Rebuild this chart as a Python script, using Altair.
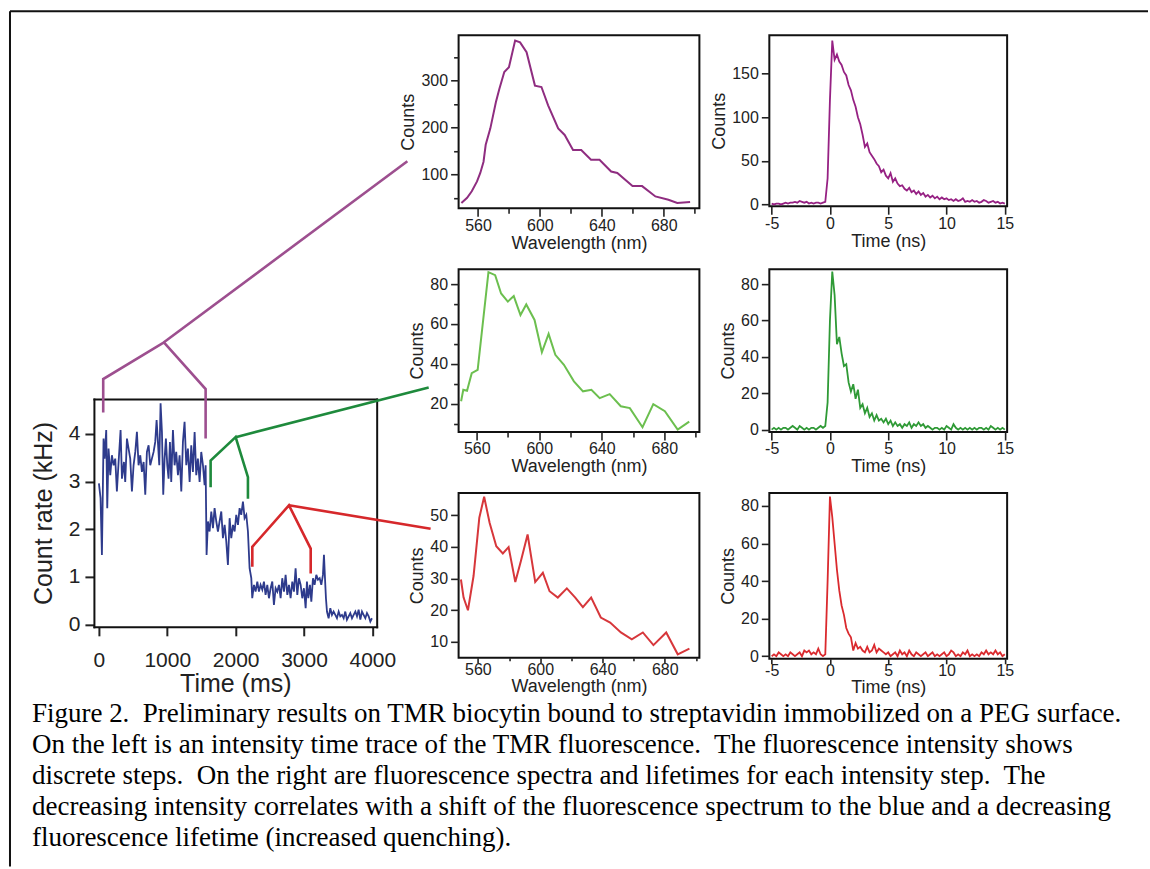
import altair as alt
import pandas as pd

# ---------------- data ----------------
# intensity time trace (ms, kHz)
TRACE_T = [0, 24, 44, 68, 83, 107, 122, 141, 166, 190,
           215, 239, 263, 288, 317, 337, 366, 385, 410, 434,
           458, 483, 507, 532, 556, 580, 605, 629, 654, 678,
           702, 727, 751, 775, 800, 824, 844, 863, 883, 902,
           922, 941, 961, 980, 1000, 1019, 1039, 1058, 1083, 1107,
           1131, 1156, 1180, 1205, 1229, 1253, 1278, 1302, 1327, 1351,
           1375, 1400, 1424, 1448, 1473, 1497, 1522, 1546, 1561, 1575,
           1595, 1619, 1644, 1668, 1692, 1717, 1741, 1765, 1790, 1814,
           1839, 1863, 1887, 1912, 1936, 1961, 1985, 2009, 2034, 2058,
           2082, 2107, 2131, 2156, 2180, 2204, 2229, 2243, 2268, 2292,
           2317, 2341, 2365, 2390, 2414, 2438, 2463, 2487, 2512, 2536,
           2560, 2585, 2609, 2634, 2658, 2682, 2707, 2731, 2756, 2780,
           2804, 2829, 2853, 2877, 2902, 2926, 2951, 2975, 2999, 3024,
           3043, 3063, 3087, 3107, 3131, 3155, 3180, 3204, 3229, 3253,
           3277, 3292, 3307, 3321, 3336, 3360, 3385, 3409, 3433, 3458,
           3482, 3507, 3531, 3555, 3580, 3604, 3628, 3653, 3677, 3702,
           3726, 3751, 3775, 3799, 3824, 3848, 3872, 3897, 3921, 3946,
           3970, 3994]
TRACE_V = [2.96, 2.65, 1.46, 3.90, 3.48, 4.08, 2.44, 3.69, 3.13, 3.55,
           3.34, 3.48, 2.79, 3.41, 4.08, 3.06, 3.41, 2.99, 3.90, 3.69,
           3.48, 2.79, 3.34, 3.62, 4.04, 3.34, 3.55, 3.20, 3.41, 2.72,
           3.62, 3.76, 3.34, 3.48, 3.62, 3.83, 4.29, 3.83, 3.34, 4.64,
           4.04, 2.72, 3.48, 3.90, 3.34, 3.06, 3.83, 2.99, 4.08, 3.34,
           3.62, 3.13, 3.55, 2.79, 3.83, 4.25, 3.34, 3.69, 2.99, 3.76,
           3.20, 4.04, 3.13, 3.48, 2.99, 3.62, 3.34, 2.92, 3.34, 1.46,
           2.16, 1.95, 2.37, 2.02, 2.44, 2.16, 1.95, 2.16, 2.37, 1.81,
           2.09, 1.74, 1.25, 2.23, 1.81, 2.09, 1.95, 2.30, 2.09, 2.44,
           2.30, 2.58, 2.23, 2.30, 1.95, 1.18, 0.97, 0.55, 0.83, 0.69,
           0.90, 0.69, 0.83, 0.73, 0.90, 0.62, 0.83, 0.55, 0.76, 0.90,
           0.41, 0.76, 0.69, 0.83, 0.55, 0.97, 0.69, 1.04, 0.62, 0.83,
           0.55, 0.90, 0.69, 1.18, 0.62, 0.97, 0.83, 0.55, 0.76, 0.34,
           0.90, 0.55, 0.83, 0.48, 0.97, 0.83, 1.04, 0.94, 0.97, 0.83,
           1.04, 1.46, 0.97, 0.55, 0.27, 0.13, 0.34, 0.20, 0.27, 0.20,
           0.13, 0.27, 0.17, 0.20, 0.13, 0.27, 0.10, 0.17, 0.24, 0.13,
           0.20, 0.27, 0.17, 0.31, 0.10, 0.27, 0.20, 0.13, 0.24, 0.17,
           0.06, 0.13]

# brackets (in trace coordinates) and their leader lines
BRACKET_P_T = [63, 63, 951, 1561, 1561]
BRACKET_P_V = [4.45, 5.15, 5.92, 4.94, 3.90]
LEAD_P_T = [951, 4512]
LEAD_P_V = [5.92, 9.72]
BRACKET_G_T = [1634, 1634, 2000, 2180, 2180]
BRACKET_G_V = [2.88, 3.44, 3.93, 3.09, 2.64]
LEAD_G_T = [2000, 4824]
LEAD_G_V = [3.93, 4.97]
BRACKET_R_T = [2244, 2244, 2780, 3098, 3098]
BRACKET_R_V = [1.21, 1.63, 2.50, 1.59, 1.07]
LEAD_R_T = [2780, 4852]
LEAD_R_V = [2.50, 2.01]

# spectra (nm, counts)
SPEC_P_NM = [549.3, 553, 556, 559.4, 561.5, 563.6, 565, 568, 571.6, 573.8, 577, 580, 584, 587.2,
             591.4, 596.8, 601, 605.3, 611.8, 616, 621.4, 626.7, 633, 638.5, 646, 650, 659.8,
             666, 674.6, 683, 688.7, 697]
SPEC_P_C = [39, 50, 64, 85, 103, 127, 163, 198, 254, 282, 318, 328, 385, 381,
            360, 289, 286, 247, 198, 184, 152, 152, 131, 131, 106, 103, 75,
            75, 53, 46, 39, 41]
SPEC_G_NM = [550, 551.4, 553.8, 556.8, 560.6, 567.5, 571.8, 575.6, 579.9, 583.7, 588, 591.7,
             597, 601.7, 606, 610.3, 615.8, 622.2, 628, 633.4, 638.7, 645.1, 652.2, 658,
             666.1, 673, 680.4, 688.6, 696]
SPEC_G_C = [21.2, 27, 26.5, 35.3, 37, 86, 84.5, 75.3, 71.2, 74, 64.5, 69.8,
            62, 45.8, 55, 44.5, 39.5, 31.2, 26.2, 27, 22.8, 24.8, 18.7, 17.8,
            8.2, 19.8, 16.2, 7, 11]
SPEC_R_NM = [549.1, 550.8, 553.6, 557.2, 560.9, 564, 567.5, 571.8, 576, 579.7, 584, 587.6,
             591.9, 596.8, 601.7, 606, 611.3, 617.1, 622.5, 627.4, 632.7, 638.9, 644.9,
             651.8, 658.8, 665.9, 672.7, 680.9, 688.3, 695.8]
SPEC_R_C = [29.7, 24, 20, 30.8, 49.2, 55.8, 47.6, 40.2, 37.9, 39.9, 28.9, 35.5,
            43.9, 28.9, 31.8, 26, 24, 26.9, 24, 21, 24, 17.7, 16.1,
            13, 10.8, 13, 9, 13, 6.1, 7.9]

# lifetimes: counts on a 0.2 ns grid from -5 ns to 15 ns
LIFE_T = [round(-5 + 0.2 * i, 1) for i in range(101)]
LIFE_P = [1, 0, 1, 1, 0, 1, 2, 1, 2, 2,
          3, 2, 4, 3, 2, 3, 1, 2, 1, 2,
          2, 1, 2, 3, 30, 120, 188, 166, 172, 164,
          160, 152, 148, 137, 131, 120, 112, 100, 92, 80,
          66, 70, 60, 56, 52, 47, 44, 37, 40, 33,
          30, 36, 26, 30, 24, 21, 22, 18, 16, 19,
          14, 16, 12, 15, 11, 13, 9, 11, 8, 10,
          7, 9, 6, 8, 6, 7, 5, 6, 4, 6,
          4, 5, 7, 3, 4, 3, 5, 3, 4, 2,
          3, 5, 4, 2, 3, 4, 2, 3, 1, 2,
          1]
LIFE_G = [0, 1, 0, 1, 0, 1, 1, 0, 1, 2,
          1, 0, 2, 1, 0, 1, 0, 1, 1, 0,
          1, 2, 1, 2, 15, 60, 87, 74, 47, 51,
          42, 35, 36, 26, 21, 25, 17, 22, 12, 14,
          9, 12, 7, 9, 5, 8, 5, 6, 4, 6,
          3, 5, 2, 4, 2, 3, 1, 3, 2, 4,
          1, 3, 2, 4, 2, 3, 1, 2, 1, 0,
          1, 1, 0, 1, 0, 2, 1, 0, 3, 1,
          0, 1, 0, 1, 0, 1, 0, 1, 0, 1,
          1, 0, 1, 0, 2, 1, 0, 1, 0, 1,
          0]
LIFE_R = [0, 1, 0, 2, 1, 0, 1, 0, 2, 1,
          0, 1, 2, 0, 3, 2, 3, 1, 2, 1,
          4, 1, 0, 1, 40, 85, 74, 60, 46, 35,
          27, 22, 15, 12, 10, 3, 7, 4, 5, 3,
          2, 5, 2, 3, 6, 2, 4, 3, 2, 1,
          2, 0, 1, 2, 0, 3, 1, 2, 0, 3,
          1, 0, 2, 1, 0, 1, 2, 0, 1, 2,
          0, 1, 0, 1, 2, 0, 1, 3, 2, 0,
          1, 0, 2, 1, 3, 0, 1, 0, 1, 0,
          2, 1, 3, 1, 2, 1, 3, 1, 2, 0,
          1]

CAPTION_LINES = [
    "Figure 2.\u00a0 Preliminary results on TMR biocytin bound to streptavidin immobilized on a PEG surface.",
    "On the left is an intensity time trace of the TMR fluorescence.\u00a0 The fluorescence intensity shows",
    "discrete steps.\u00a0 On the right are fluorescence spectra and lifetimes for each intensity step.\u00a0 The",
    "decreasing intensity correlates with a shift of the fluorescence spectrum to the blue and a decreasing",
    "fluorescence lifetime (increased quenching).",
]

# ---------------- styles ----------------
SANS = "Liberation Sans"
SERIF = "Liberation Serif"
INK = "#222222"
FRAME = "#111111"
TRACE_COLOR = "#2E3B8C"
BR_P, BR_G, BR_R = "#9D4F8F", "#1E8A3C", "#D6282B"
SP_P, SP_G, SP_R = "#8F2D80", "#6CBF4F", "#D7373B"
LT_P, LT_G, LT_R = "#962183", "#2F9A36", "#DA2A2E"

SMALL = dict(domain=False, grid=False, tickColor=INK, tickWidth=1.6,
             labelFont=SANS, labelFontSize=16, labelColor=INK, labelFlush=False,
             labelOverlap=False, titleFont=SANS, titleFontSize=18,
             titleFontWeight="normal", titleColor=INK)
SX = dict(SMALL, tickSize=8, labelPadding=1, titlePadding=1)
SX_LOW = dict(SMALL, tickSize=5, labelPadding=-1, titlePadding=0)
SY = dict(SMALL, tickSize=8, labelPadding=3, titlePadding=3)
MINOR = dict(domain=False, grid=False, tickColor=INK, tickWidth=1.6, tickSize=5, labels=False)
MINOR_LOW = dict(MINOR, tickSize=3)

BIG = dict(domain=True, domainColor=FRAME, domainWidth=2, domainCap="square", grid=False,
           tickColor=INK, tickWidth=2, tickSize=9,
           labelFont=SANS, labelFontSize=21, labelColor=INK, labelFlush=False,
           labelOverlap=False, titleFont=SANS, titleFontSize=25,
           titleFontWeight="normal", titleColor=INK)
BX = dict(BIG, labelPadding=14, titlePadding=1)
BY = dict(BIG, labelPadding=5, titlePadding=12)
EDGE = dict(domain=True, domainColor=FRAME, domainWidth=2, domainCap="square", grid=False,
            ticks=False, labels=False, title=None)

PANEL_VIEW = alt.ViewBackground(stroke=FRAME, strokeWidth=2)
EMPTY_VIEW = alt.ViewBackground(stroke="transparent")
ONE = pd.DataFrame({"z": [0]})


def blank(w, h):
    return alt.Chart(ONE).mark_point(opacity=0).encode(
        x=alt.value(0), y=alt.value(0)).properties(width=w, height=h, view=EMPTY_VIEW)


# ---------------- left: time trace with brackets ----------------
# the trace cell is 134 px tall; its y range reaches 94 px above the cell
tx = alt.Scale(domain=[-73, 4063], nice=False, zero=False)
ty = alt.Scale(domain=[-0.05, 4.73], range=[134, -94], nice=False, zero=False)
trace_df = pd.DataFrame({"t": TRACE_T, "v": TRACE_V})
trace_line = alt.Chart(trace_df).mark_line(color=TRACE_COLOR, strokeWidth=1.8).encode(
    x=alt.X("t:Q", scale=tx, axis=alt.Axis(orient="bottom", values=[0, 1000, 2000, 3000, 4000],
                                            format="d", title="Time (ms)", **BX)),
    y=alt.Y("v:Q", scale=ty, axis=alt.Axis(orient="left", values=[0, 1, 2, 3, 4],
                                            format="d", title="Count rate (kHz)", **BY)),
)
trace_frame = alt.Chart(trace_df).mark_line(opacity=0).encode(
    x=alt.X("t:Q", scale=tx, axis=alt.Axis(orient="top", offset=94, **EDGE)),
    y=alt.Y("v:Q", scale=ty, axis=alt.Axis(orient="right", **EDGE)),
)


def bracket(bt, bv, lt, lv, color):
    df = pd.DataFrame({
        "t": bt + lt, "v": bv + lv,
        "seg": [0] * len(bt) + [1] * len(lt),
        "k": list(range(len(bt))) + list(range(len(lt))),
    })
    return alt.Chart(df).mark_line(color=color, strokeWidth=2.6, clip=False).encode(
        x=alt.X("t:Q", scale=tx, axis=None),
        y=alt.Y("v:Q", scale=ty, axis=None),
        detail="seg:N", order="k:Q")


caption = alt.TitleParams(text=CAPTION_LINES, orient="bottom", anchor="start", frame="group",
                          dx=-62, dy=-35, offset=15, font=SERIF, fontSize=27, fontWeight="normal",
                          color="#000000", lineHeight=31, limit=1200, baseline="top")

trace = alt.layer(
    trace_line,
    trace_frame,
    bracket(BRACKET_P_T, BRACKET_P_V, LEAD_P_T, LEAD_P_V, BR_P),
    bracket(BRACKET_G_T, BRACKET_G_V, LEAD_G_T, LEAD_G_V, BR_G),
    bracket(BRACKET_R_T, BRACKET_R_V, LEAD_R_T, LEAD_R_V, BR_R),
).resolve_axis(x="independent", y="independent").properties(
    width=283, height=134, view=EMPTY_VIEW, title=caption)

# outer border of the figure box (decoration, drawn from the top-left spacer)
border = alt.layer(
    alt.Chart(ONE).mark_rule(color=FRAME, strokeWidth=2).encode(
        x=alt.value(-84), y=alt.value(-24), y2=alt.value(832)),
    alt.Chart(ONE).mark_rule(color=FRAME, strokeWidth=2).encode(
        x=alt.value(-84), x2=alt.value(1055), y=alt.value(-24)),
).properties(width=283, height=1, view=EMPTY_VIEW)


# ---------------- spectra ----------------
def spectrum(nm, counts, color, xdom, ydom, ymajor, yminor, w, h, sx=SX, mx=MINOR):
    df = pd.DataFrame({"nm": nm, "c": counts})
    xs = alt.Scale(domain=xdom, nice=False, zero=False)
    ys = alt.Scale(domain=ydom, nice=False, zero=False)
    main = alt.Chart(df).mark_line(color=color, strokeWidth=2).encode(
        x=alt.X("nm:Q", scale=xs, axis=alt.Axis(orient="bottom", values=[560, 600, 640, 680],
                                                 title="Wavelength (nm)", **sx)),
        y=alt.Y("c:Q", scale=ys, axis=alt.Axis(orient="left", values=ymajor, title="Counts", **SY)),
    )
    if yminor:
        yax = alt.Axis(orient="left", values=yminor, title=None, **MINOR)
    else:
        yax = None
    minor = alt.Chart(df).mark_line(opacity=0).encode(
        x=alt.X("nm:Q", scale=xs, axis=alt.Axis(orient="bottom", values=[580, 620, 660, 700],
                                                 title=None, **mx)),
        y=alt.Y("c:Q", scale=ys, axis=yax),
    )
    return alt.layer(main, minor).resolve_axis(x="independent", y="independent").properties(
        width=w, height=h, view=PANEL_VIEW)


# ---------------- lifetimes ----------------
def lifetime(vals, color, ydom, ymajor, w, h, sx=SX):
    df = pd.DataFrame({"t": LIFE_T, "c": vals})
    return alt.Chart(df).mark_line(color=color, strokeWidth=1.8).encode(
        x=alt.X("t:Q", scale=alt.Scale(domain=[-5.2, 15.2], nice=False, zero=False),
                axis=alt.Axis(orient="bottom", values=[-5, 0, 5, 10, 15],
                              labelExpr="'' + datum.value", title="Time (ns)", **sx)),
        y=alt.Y("c:Q", scale=alt.Scale(domain=ydom, nice=False, zero=False),
                axis=alt.Axis(orient="left", values=ymajor, title="Counts", **SY)),
    ).properties(width=w, height=h, view=PANEL_VIEW)


spec1 = spectrum(SPEC_P_NM, SPEC_P_C, SP_P, [547.5, 703], [28, 396], [100, 200, 300],
                 [50, 150, 250, 350], 241, 173)
spec2 = spectrum(SPEC_G_NM, SPEC_G_C, SP_G, [548.4, 702.5], [5.8, 87.5], [20, 40, 60, 80],
                 [10, 30, 50, 70], 241, 163)
spec3 = spectrum(SPEC_R_NM, SPEC_R_C, SP_R, [547.6, 702.2], [5, 57], [10, 20, 30, 40, 50],
                 [], 241, 165, sx=SX_LOW, mx=MINOR_LOW)
life1 = lifetime(LIFE_P, LT_P, [-2, 194], [0, 50, 100, 150], 238, 171)
life2 = lifetime(LIFE_G, LT_G, [-1.3, 88.3], [0, 20, 40, 60, 80], 238, 163)
life3 = lifetime(LIFE_R, LT_R, [-1.4, 86.9], [0, 20, 40, 60, 80], 238, 166, sx=SX_LOW)

cells = [
    border, blank(82, 1), spec1, blank(70, 1), life1,
    blank(283, 1), blank(82, 1), spec2, blank(70, 1), life2,
    trace, blank(82, 1), spec3, blank(70, 1), life3,
]

chart = alt.concat(
    *cells, columns=5, spacing={"row": 61, "column": 0}, bounds="flush"
).properties(
    padding={"left": 8, "top": 9, "right": 0, "bottom": 0}, background="white"
).configure_view(stroke=FRAME, strokeWidth=2)

chart.save("out.html", embed_options={"renderer": "svg", "actions": False})
